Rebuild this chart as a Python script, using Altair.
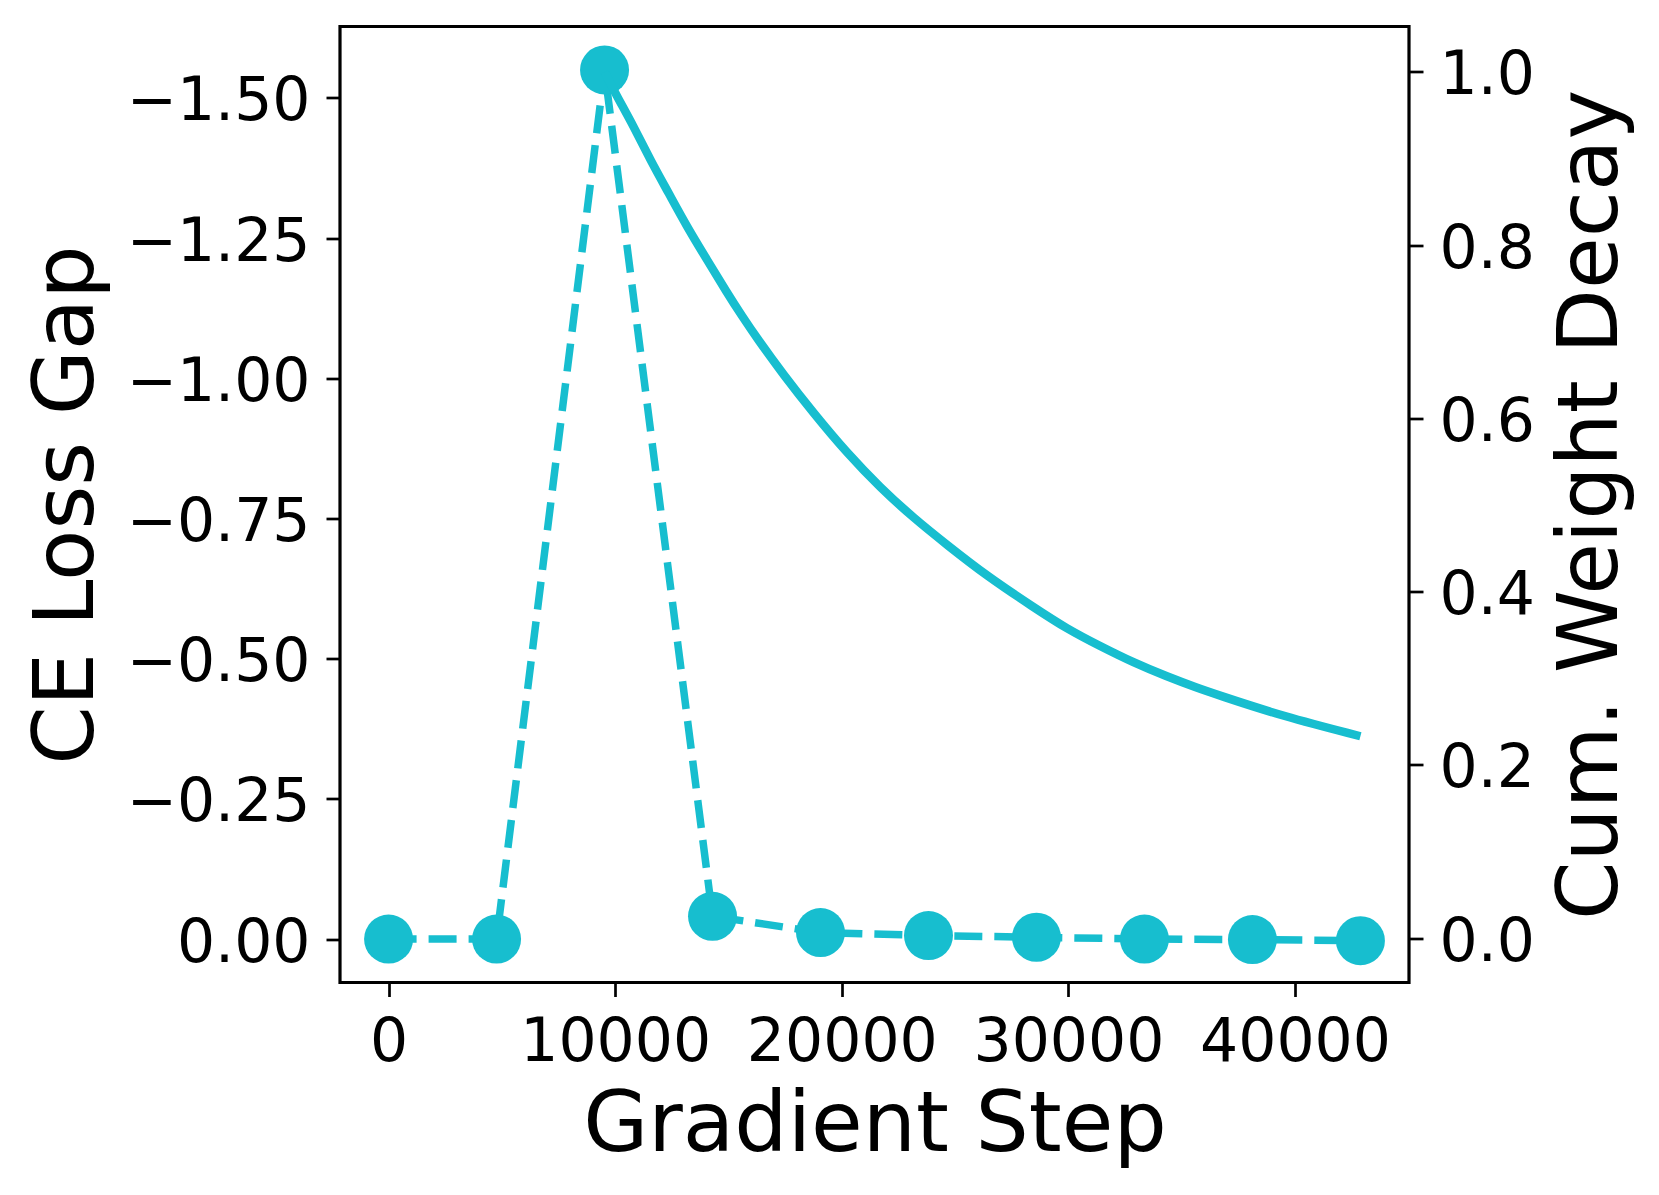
import altair as alt
import pandas as pd

COLOR = "#17becf"
FONT = "DejaVu Sans"

# CE loss gap at checkpoints (left axis, inverted)
steps = [0, 4765, 9530, 14295, 19060, 23825, 28590, 33355, 38120, 42885]
ce_gap = [0.0, 0.0, -1.55, -0.0406, -0.0116, -0.0062, -0.0032, 0.0, 0.001, 0.003]

# cumulative weight decay curve (right axis)
wd_steps = [9530, 10011, 10818, 11555, 12362, 13173, 14055, 14937, 15599, 16273,
            17433, 18756, 20229, 21698, 23167, 24640, 26404, 28459, 29931, 31400,
            32869, 34342, 35665, 36560, 39471, 42885]
wd_vals = [1.000, 0.975, 0.937, 0.898, 0.860, 0.821, 0.783, 0.745, 0.718, 0.692,
           0.650, 0.606, 0.560, 0.520, 0.485, 0.454, 0.418, 0.382, 0.357, 0.337,
           0.318, 0.302, 0.289, 0.281, 0.256, 0.233]

x_ticks = [0, 10000, 20000, 30000, 40000]
left_ticks = [-1.5, -1.25, -1.0, -0.75, -0.5, -0.25, 0.0]
right_ticks = [0.0, 0.2, 0.4, 0.6, 0.8, 1.0]

df_loss = pd.DataFrame({"step": steps, "gap": ce_gap})
df_wd = pd.DataFrame({"step": wd_steps, "wd": wd_vals})

W, H = 1069, 956
LFS = 60

x_enc = alt.X(
    "step:Q",
    scale=alt.Scale(domain=[-2144, 45029], nice=False, zero=False),
    axis=alt.Axis(
        values=x_ticks, format="d", title="Gradient Step",
        titleX=W / 2, titleY=168, titleBaseline="alphabetic", titleAlign="center",
        labelPadding=17,
    ),
)

y_left = alt.Y(
    "gap:Q",
    scale=alt.Scale(domain=[-1.6275, 0.0775], reverse=True, nice=False, zero=False),
    axis=alt.Axis(
        orient="left", values=left_ticks, format=".2f", title="CE Loss Gap",
        titleAngle=270, titleX=-247.5, titleY=H / 2, titleBaseline="alphabetic",
        titleAlign="center", labelBaseline="alphabetic", labelOffset=22,
        labelPadding=16,
    ),
)

y_right = alt.Y(
    "wd:Q",
    scale=alt.Scale(domain=[-0.0513, 1.0524], nice=False, zero=False),
    axis=alt.Axis(
        orient="right", values=right_ticks, format=".1f", title="Cum. Weight Decay",
        titleAngle=270, titleX=207, titleY=H / 2, titleBaseline="alphabetic",
        titleAlign="center", labelBaseline="alphabetic", labelOffset=22,
        labelPadding=16,
    ),
)

dashed = alt.Chart(df_loss).mark_line(
    color=COLOR, strokeWidth=7.5, strokeDash=[28, 12]
).encode(x=x_enc, y=y_left)

points = alt.Chart(df_loss).mark_circle(
    color=COLOR, size=2401, opacity=1
).encode(x=x_enc, y=y_left)

left = alt.layer(dashed, points)

decay = alt.Chart(df_wd).mark_line(
    color=COLOR, strokeWidth=8.5, interpolate="basis"
).encode(x=x_enc, y=y_right)

chart = alt.layer(left, decay).resolve_scale(y="independent").properties(
    width=W, height=H,
    autosize=alt.AutoSizeParams(type="none"),
    padding={"left": 332, "top": 18.5, "right": 240, "bottom": 200},
).configure_axis(
    labelFont=FONT, titleFont=FONT, labelFontSize=LFS, titleFontSize=84,
    labelColor="black", titleColor="black", titleFontWeight="normal",
    tickColor="black", tickWidth=2.7, tickSize=14, domain=False, grid=False,
    labelLimit=0,
).configure_view(
    stroke="black", strokeWidth=3.2
)

chart.save("out.html", embed_options={"renderer": "svg", "actions": False})
